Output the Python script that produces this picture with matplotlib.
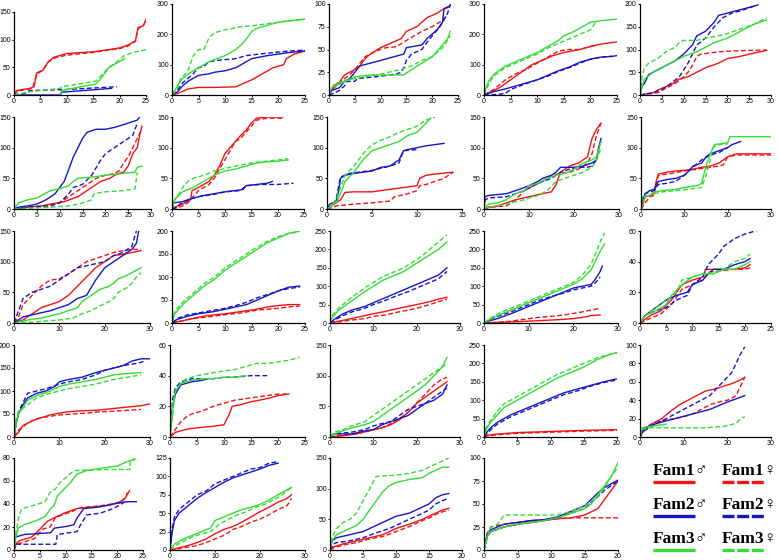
import matplotlib
matplotlib.use("Agg")
import matplotlib.pyplot as plt

W, H = 779, 560

RED = "#f01414"
BLUE = "#1616c8"
GREEN = "#34dc34"

# order in every panel: Fam1 male, Fam1 female, Fam2 male, Fam2 female, Fam3 male, Fam3 female
series_colors = [RED, RED, BLUE, BLUE, GREEN, GREEN]
series_dashed = [False, True, False, True, False, True]
legend_labels = ["Fam1♂", "Fam1♀", "Fam2♂", "Fam2♀", "Fam3♂", "Fam3♀"]

# axis ranges per panel (row by row)
x_max = [25, 25, 25, 25, 30, 30, 25, 15, 30, 30, 30, 25, 30, 30, 25, 30, 25, 30, 20, 30, 25, 30, 20, 20]
x_step = [5, 5, 5, 5, 5, 5, 5, 5, 10, 10, 10, 5, 10, 10, 5, 10, 5, 10, 5, 10, 5, 10, 5, 5]
y_max = [150, 300, 100, 300, 200, 150, 150, 150, 150, 150, 150, 200, 250, 250, 60,
         200, 60, 150, 250, 100, 80, 125, 150, 100]
y_step = [50, 100, 25, 100, 50, 50, 50, 50, 50, 50, 50, 50, 50, 50, 20,
          50, 20, 50, 50, 20, 20, 25, 50, 25]

p01 = [
    [(0,0),(0.5,8),(3,12),(3.8,15),(4.3,40),(5.5,45),(6.5,60),(7.5,68),(10,75),(15,78),(20,85),(21.5,90),(23,98),(23.5,122),(24.5,125),(25,137)],
    [(0,0),(0.7,7),(3.5,12),(4.3,38),(5.5,45),(6.5,60),(8,68),(10,72),(15,77),(20,84),(21.5,88),(23,97),(23.5,120),(24.5,126),(25,135)],
    [(0,0),(8.8,0),(9,5),(18.5,12)],
    [(0,0),(2,3),(3,8),(10,10),(19.5,15)],
    [(8.8,0),(9,8),(15.5,20),(16.5,30),(18,50),(19.5,58),(21,66)],
    [(0,0),(3,6),(8.8,12),(9,15),(15.5,25),(16,30),(18,50),(19.5,60),(21,72),(23,78),(25,82)],
]
p02 = [
    [(0,0),(1,5),(2,12),(3,20),(5,25),(8,25),(12,27),(13,35),(15,50),(17,70),(19,90),(21,100),(21.5,120),(23,135),(25,145)],
    None,
    [(0,0),(1,10),(2,30),(3,45),(4,55),(5,65),(7,70),(8,75),(10,80),(12,90),(14,110),(15,120),(18,130),(22,140),(25,145)],
    [(0,0),(1,15),(2,40),(3,55),(4,70),(4.5,80),(5,90),(6,95),(7,110),(9,115),(12,120),(14,130),(18,138),(22,145),(25,148)],
    [(0,0),(1,30),(2,55),(4,80),(5,90),(7,110),(10,130),(12,150),(13,165),(14,185),(15,210),(16,220),(18,230),(20,240),(25,250)],
    [(0,0),(1,20),(1.5,50),(3,80),(4,130),(5,150),(6,150),(7,190),(8,205),(10,215),(13,225),(15,228),(18,235),(20,240),(22,245),(25,250)],
]
p03 = [
    [(0,0),(1,10),(2,14),(3,22),(4,25),(5,28),(6,32),(7,40),(8,45),(10,52),(12,57),(14,62),(15,70),(17,75),(19,85),(21,90),(22,94),(23,96)],
    [(0,0),(1,8),(3,18),(4,22),(5,28),(6,35),(7,42),(9,48),(11,52),(13,53),(15,60),(18,70),(20,75),(22,82),(23,88)],
    [(0,0),(0.5,5),(2,8),(3,15),(4,18),(5,25),(6,32),(10,38),(14.5,45),(15,52),(18,55),(19,62),(21,72),(22,80),(22.3,95),(23.5,98)],
    [(0,0),(1,2),(2,5),(3,10),(3.5,15),(5,15),(5.5,18),(9,20),(13,23),(14,25),(14.5,30),(15,38),(16,45),(18,50),(19,58),(20,65),(21.5,75),(23,90),(23.5,100)],
    [(0,0),(0.5,8),(2,12),(4,17),(5,20),(8,22),(14.5,22),(16,28),(18,35),(20,42),(22,55),(23,62),(23.5,70)],
    [(0,0),(1,12),(3,16),(5,18),(7,20),(10,23),(14,28),(16,32),(18,38),(20,42),(22,52),(23.5,65)],
]
p04 = [
    [(0,0),(1,8),(3,25),(5,50),(7,75),(9,100),(11,115),(13,130),(15,140),(18,150),(20,160),(22,168),(25,175)],
    [(0,0),(2,20),(4,50),(6,70),(8,85),(10,105),(12,125),(14,145),(16,150),(18,150),(20,160),(21,165)],
    [(0,0),(2,12),(4,20),(5,25),(7,35),(9,45),(10,50),(12,65),(14,80),(16,92),(18,108),(20,118),(22,125),(24,127),(25,130)],
    [(0,0),(2,1),(4,5),(5,18),(6,25),(8,38),(10,50),(12,62),(14,78),(16,90),(18,105),(20,118),(22,125),(24,128)],
    [(0,0),(0.5,30),(1,50),(2,70),(4,95),(6,110),(8,125),(10,140),(12,160),(14,180),(15,195),(17,210),(19,230),(20,240),(22,245),(25,250)],
    [(0,0),(1,40),(2,65),(4,90),(6,105),(8,120),(10,135),(12,155),(14,170),(16,185),(18,200),(20,215),(21,240)],
]
p05 = [
    [(0,0),(3,5),(5,15),(7,22),(9,35),(11,40),(13,50),(15,60),(18,70),(20,80),(23,85),(26,92),(29,98)],
    [(0,0),(4,5),(6,15),(8,25),(10,40),(11,50),(12,65),(13,85),(14,90),(18,95),(22,97),(29,99)],
    [(0,0),(0.5,20),(1,25),(2,45),(4,55),(6,65),(8,75),(10,90),(12,110),(13,130),(15,140),(16,150),(17,160),(18,175),(20,180),(22,185),(24,190),(26,195),(27,198)],
    [(0,0),(3,5),(5,12),(7,25),(9,40),(11,70),(12,90),(13,110),(15,125),(17,150),(19,170),(21,180),(23,185),(26,195)],
    [(0,0),(0.5,20),(1,35),(3,50),(5,60),(7,70),(10,85),(13,95),(15,105),(17,115),(20,125),(23,140),(26,155),(29,165)],
    [(0,0),(0.5,40),(1,60),(2,70),(4,80),(6,95),(8,105),(9,115),(10,120),(13,120),(15,125),(18,130),(20,135),(23,145),(26,155),(29,170)],
]
p06 = [
    [(0,0),(3,3),(6,5),(8,8),(11,12),(14,20),(16,30),(18,40),(19,45),(21,50),(22,55),(23,58),(24,60),(25,70),(26,90),(27,100),(27.5,120),(28,135)],
    [(0,0),(3,2),(7,5),(10,10),(12,20),(14,30),(16,40),(18,50),(20,55),(22,58),(23,62),(24,75),(25,85),(26,100),(27,115),(28,130)],
    [(0,0),(1,3),(3,5),(5,8),(7,15),(9,25),(10,35),(11,45),(12,65),(13,85),(14,100),(15,115),(16,125),(18,130),(20,130),(22,133),(25,140),(27,145),(27.5,150)],
    [(0,0),(2,3),(5,4),(8,5),(10,10),(12,25),(13,35),(15,40),(17,55),(19,80),(20,90),(22,100),(24,110),(26,120),(27,140)],
    [(0,0),(1,10),(3,15),(5,18),(6,22),(8,30),(10,33),(12,38),(13,45),(14,50),(17,52),(20,55),(24,58),(26.5,60),(27,68),(28,70)],
    [(0,0),(2,1),(5,2),(8,3),(12,5),(14,8),(16,12),(17,15),(17.5,25),(20,28),(24,30),(26.5,33),(27,60)],
]
p07 = [
    [(0,0),(0.5,3),(2,8),(3.5,15),(3.8,30),(5,35),(6,40),(7,45),(8,55),(9,70),(10,90),(11,100),(12,110),(13,120),(14,128),(15,140),(16,148),(18,150),(21,150)],
    [(0,0),(1,2),(2,5),(3,10),(4,20),(5,30),(7,40),(8,50),(9,65),(10,80),(11,95),(12,110),(13,115),(14,125),(15,135),(16,145),(18,148),(21,148)],
    [(0,0),(0.3,10),(2,12),(4,18),(6,22),(8,25),(10,28),(12,30),(13.5,32),(14,38),(16,40),(18,42),(19,45)],
    [(0,0),(1,3),(1.5,8),(3,15),(5,20),(8,24),(10,28),(13,30),(14,38),(17,40),(20,40),(23,42)],
    [(0,0),(0.5,15),(1,20),(2,28),(4,35),(6,45),(8,55),(10,62),(12,65),(14,70),(16,75),(18,77),(20,78),(22,80)],
    [(0,0),(0.5,15),(1,20),(2,35),(3,45),(4,50),(6,55),(8,62),(10,66),(12,70),(15,75),(18,78),(20,80),(22,82)],
]
p08 = [
    [(0,0),(0.5,5),(1,10),(1.5,15),(2,27),(3,28),(5,28),(7,32),(9,36),(10,38),(10.3,50),(11,55),(12,57),(14,60)],
    [(0,0),(0.5,2),(1,5),(3,8),(5,10),(7,13),(7.5,20),(9,25),(10,30),(10.3,38),(11,40),(12,45),(13,50),(14,60)],
    [(0,0),(0.3,8),(1,12),(1.3,30),(1.5,50),(2,55),(3,58),(5,62),(6,68),(7,70),(8,80),(8.5,95),(9,97),(10,100),(11,103),(12,105),(13,107)],
    [(0,0),(0.5,5),(1,15),(1.5,52),(2.5,58),(5,63),(7,70),(8,75),(8.5,95),(10,97)],
    [(0,0),(0.5,5),(1,10),(1.5,25),(2,45),(3,60),(4,80),(5,95),(6,100),(7,105),(8,110),(9,120),(10,125),(11,140),(11.5,148)],
    [(0,0),(0.5,5),(1,15),(1.5,35),(2,55),(3,70),(4,90),(5,105),(6,112),(7,118),(8,125),(9,130),(10,135),(11,145),(12,150)],
]
p09 = [
    [(0,0),(1,3),(3,5),(5,10),(7,15),(10,20),(13,25),(15,28),(16,40),(17,60),(19,70),(21,75),(22,80),(23,85),(23.5,100),(24,115),(25,130),(26,140)],
    [(0,0),(1,2),(3,4),(5,5),(7,15),(9,30),(11,38),(13,45),(15,55),(17,58),(19,60),(21,65),(23,75),(24,90),(25,120),(26,140)],
    [(0,0),(0.2,20),(1,22),(5,25),(7,30),(9,35),(10,38),(12,45),(13,50),(15,55),(16,60),(17,68),(20,68),(22,70),(24,75),(25,80),(25.5,100),(26,115)],
    [(0,0),(0.3,15),(1,18),(5,20),(7,25),(9,30),(11,38),(13,45),(15,50),(17,60),(19,65),(21,68),(23,68),(24,70),(25,80),(25.5,100),(26,110)],
    [(0,0),(1,8),(3,10),(5,15),(7,25),(9,30),(10,38),(12,42),(14,50),(16,55),(18,58),(20,65),(22,75),(24,80),(25,85),(26,110)],
    [(0,0),(1,3),(3,5),(5,8),(7,12),(9,15),(10,18),(12,22),(14,30),(16,45),(18,50),(20,55),(22,60),(24,68),(25,80),(26,100)],
]
p10 = [
    [(0,0),(1,20),(2,22),(3,25),(3.5,45),(4,57),(6,60),(8,62),(10,63),(12,65),(14,68),(16,70),(18,75),(19,80),(20,85),(22,90),(30,90)],
    [(0,0),(2,20),(3,22),(3.5,40),(4,55),(7,58),(10,62),(13,65),(16,68),(18,70),(19,72),(20,85),(22,88),(30,88)],
    [(0,0),(0.3,15),(1,25),(2,30),(3,32),(4,45),(6,48),(8,50),(10,55),(11,62),(12,70),(14,75),(15,85),(16,90),(18,95),(20,100),(21,105),(23,110)],
    [(0,0),(0.5,20),(1,25),(3,30),(4,40),(6,42),(8,45),(10,55),(12,68),(14,80),(16,88),(18,92),(20,100)],
    [(0,0),(0.3,20),(2,22),(3,28),(5,30),(8,32),(10,35),(13,38),(14,42),(15,70),(16,90),(17,105),(20,108),(20.5,118),(22,118),(30,118)],
    [(0,0),(1,20),(3,25),(5,28),(8,30),(11,32),(14,35),(15,55),(16,80),(16.5,100),(18,105),(20,106)],
]
p11 = [
    [(0,0),(2,5),(4,15),(6,25),(8,30),(10,35),(12,45),(14,60),(16,75),(18,90),(20,100),(22,110),(24,112),(26,115),(28,118)],
    [(0,0),(1,10),(2,30),(4,45),(6,60),(8,70),(10,72),(12,80),(14,90),(16,100),(18,105),(20,110),(22,115),(24,118),(26,120),(28,120)],
    [(0,0),(2,10),(5,15),(8,20),(12,30),(14,40),(16,45),(18,70),(20,90),(22,100),(24,110),(26,120),(27,130),(27.5,150)],
    [(0,0),(1,20),(2,40),(4,50),(6,55),(8,60),(9,65),(10,70),(12,80),(14,90),(17,95),(20,100),(22,110),(24,115),(26,125),(27,150)],
    [(0,0),(3,5),(6,8),(10,15),(14,25),(15,35),(17,45),(19,55),(21,60),(22,65),(23,72),(25,78),(26,82),(28,90)],
    [(0,0),(5,2),(10,5),(13,8),(15,15),(17,20),(19,28),(21,35),(22,40),(23,50),(25,58),(26,65),(27,75),(28,82)],
]
p12 = [
    [(0,0),(2,5),(4,10),(6,15),(8,18),(10,20),(13,25),(16,30),(18,35),(20,38),(22,40),(24,40)],
    [(0,0),(2,5),(4,10),(6,12),(8,15),(10,18),(13,22),(16,28),(18,30),(20,32),(22,35),(24,37)],
    [(0,0),(1,8),(3,15),(5,20),(8,25),(10,30),(12,35),(14,40),(16,50),(18,60),(20,70),(22,78),(24,80)],
    [(0,0),(1,10),(3,18),(5,22),(8,28),(10,32),(12,38),(14,45),(16,55),(18,62),(20,70),(22,75),(24,78)],
    [(0,0),(0.5,20),(2,40),(4,60),(6,80),(8,95),(10,115),(12,130),(14,145),(16,160),(18,175),(20,185),(22,195),(24,200)],
    [(0,0),(0.5,25),(2,45),(4,65),(6,85),(8,100),(10,120),(12,135),(14,150),(16,165),(18,178),(20,188),(22,195),(24,198)],
]
p13 = [
    [(0,0),(2,5),(5,12),(8,20),(10,25),(13,32),(15,38),(18,45),(20,50),(23,58),(25,65),(27,70)],
    [(0,0),(2,3),(5,8),(8,12),(10,18),(13,22),(15,28),(18,35),(20,40),(23,50),(25,58),(27,65)],
    [(0,0),(1,10),(3,25),(5,35),(8,45),(10,55),(12,65),(15,80),(18,95),(20,105),(23,120),(25,130),(27,150)],
    [(0,0),(1,8),(3,20),(5,30),(8,40),(10,50),(12,58),(15,72),(18,85),(20,95),(23,110),(25,120),(27,140)],
    [(0,0),(0.5,15),(2,35),(5,60),(8,85),(10,100),(12,115),(15,130),(17,140),(19,155),(21,170),(23,185),(25,200),(27,220)],
    [(0,0),(0.5,20),(2,40),(5,70),(8,95),(10,110),(12,125),(15,140),(17,150),(19,165),(21,180),(23,200),(25,220),(27,240)],
]
p14 = [
    [(0,0),(5,2),(10,5),(15,8),(18,10),(20,12),(22,15),(24,20),(26,22)],
    [(0,0),(3,2),(6,5),(9,10),(12,15),(15,18),(18,22),(21,28),(24,35),(26,40)],
    [(0,0),(1,5),(3,12),(6,25),(9,40),(12,55),(15,70),(18,85),(20,95),(22,100),(24,105),(25,120),(26,140),(26.5,155)],
    [(0,0),(1,8),(3,18),(6,30),(9,45),(12,60),(15,72),(18,82),(20,90),(22,95),(24,100),(25,110),(26,125)],
    [(0,0),(1,8),(3,20),(6,35),(9,50),(12,65),(15,80),(18,95),(20,105),(22,120),(24,145),(25,170),(26,195),(27,215)],
    [(0,0),(1,10),(3,25),(6,40),(9,55),(12,70),(15,85),(18,100),(20,110),(22,130),(24,160),(25,190),(26,220),(27,245)],
]
p15 = [
    [(0,0),(2,5),(4,8),(6,15),(8,25),(10,28),(12,30),(12.5,35),(15,35),(18,35),(20,36),(21,38)],
    [(0,0),(2,3),(4,6),(6,12),(8,22),(10,25),(12,28),(13,33),(15,34),(18,35),(20,35),(21,36)],
    [(0,0),(1,5),(3,10),(5,15),(7,18),(9,20),(10,25),(12,28),(13,32),(14,35),(16,35),(18,38),(20,40),(21,42)],
    [(0,0),(1,5),(3,8),(5,10),(7,15),(9,18),(10,25),(12,30),(13,38),(15,45),(16,50),(18,55),(20,58),(22,60),(24,62),(25,64)],
    [(0,0),(1,5),(3,8),(5,12),(6,18),(8,25),(10,30),(12,32),(14,32),(16,35),(18,35),(20,38),(21,40)],
    [(0,0),(1,5),(3,10),(5,15),(7,20),(8,28),(10,30),(12,32),(14,33),(16,35),(18,40),(20,42),(21,45)],
]
p16 = [
    [(0,0),(1,10),(2,25),(4,35),(6,42),(8,48),(10,52),(12,55),(15,57),(18,58),(20,60),(22,62),(25,65),(28,68),(30,72)],
    [(0,0),(1,15),(3,30),(5,40),(8,45),(10,48),(13,50),(16,52),(19,55),(22,56),(25,58),(28,60)],
    [(0,0),(0.5,30),(1,50),(2,70),(3,85),(5,95),(7,100),(9,110),(10,120),(12,125),(15,130),(18,140),(20,145),(22,150),(24,155),(26,165),(28,170),(30,170)],
    [(0,0),(0.5,35),(1,55),(2,75),(3,95),(5,100),(7,105),(10,115),(12,120),(15,125),(18,135),(20,145),(22,150),(24,155),(27,160),(29,165)],
    [(0,0),(0.5,30),(1,50),(3,80),(5,90),(8,100),(10,110),(12,115),(15,120),(18,125),(20,130),(22,135),(25,138),(28,140)],
    [(0,0),(0.5,40),(1,55),(3,70),(5,85),(8,95),(10,100),(12,105),(15,110),(18,115),(20,120),(22,125),(25,130),(28,135)],
]
p17 = [
    [(0,0),(1,3),(3,5),(5,6),(8,7),(10,8),(11,15),(11.5,20),(13,21),(15,23),(18,25),(20,27),(22,28)],
    [(0,0),(1,5),(2,10),(3,13),(4,15),(6,17),(8,20),(10,22),(12,24),(14,25),(16,26),(18,27),(20,28),(22,28)],
    [(0,0),(0.5,20),(1,28),(2,34),(4,36),(6,37),(7,38)],
    [(0,0),(0.5,25),(1,32),(2,36),(4,38),(6,38),(8,38),(10,39),(12,39),(15,40),(18,40)],
    [(0,0),(0.5,20),(1,30),(2,35),(4,37),(6,38),(8,38),(10,39),(12,39),(14,40)],
    [(0,0),(0.5,15),(1,30),(2,35),(3,38),(5,40),(8,42),(10,43),(12,44),(14,46),(16,48),(18,48),(20,49),(22,50),(24,52)],
]
p18 = [
    [(0,0),(3,2),(6,5),(9,10),(12,15),(14,20),(16,28),(18,40),(20,55),(22,65),(24,75),(26,85),(27,90)],
    [(0,0),(3,3),(6,5),(9,10),(12,15),(15,25),(18,40),(20,55),(22,70),(24,85),(26,95),(27,97)],
    [(0,0),(1,5),(5,5),(8,10),(10,12),(12,20),(14,25),(16,30),(18,35),(20,45),(22,55),(24,60),(26,70),(27,85)],
    [(0,0),(1,5),(5,8),(8,12),(10,18),(12,22),(14,25),(16,35),(18,45),(20,50),(22,55),(24,65),(26,75),(27,80)],
    [(0,0),(1,5),(3,10),(5,15),(8,20),(10,25),(12,35),(14,45),(16,55),(18,65),(20,75),(22,85),(24,100),(26,115),(27,130)],
    [(0,0),(1,8),(3,12),(5,18),(8,25),(10,35),(12,45),(14,55),(16,65),(18,75),(20,85),(22,95),(24,105),(26,115),(27,120)],
]
p19 = [
    [(0,0),(0.5,5),(2,8),(5,12),(10,15),(15,18),(20,20)],
    [(0,0),(0.5,3),(2,6),(5,10),(10,13),(15,16),(20,18)],
    [(0,0),(0.5,15),(1,25),(2,40),(4,60),(6,75),(8,90),(10,105),(12,120),(14,130),(16,140),(18,150),(20,158)],
    [(0,0),(0.5,10),(1,20),(2,35),(4,55),(6,70),(8,85),(10,100),(12,115),(14,125),(16,138),(18,148),(20,155)],
    [(0,0),(0.3,20),(1,40),(2,60),(3,80),(5,100),(7,120),(9,140),(11,160),(13,175),(15,190),(17,210),(19,225),(20,230)],
    [(0,0),(0.3,25),(1,45),(2,70),(3,90),(5,110),(7,130),(9,150),(11,170),(13,185),(15,200),(17,215),(19,225),(20,228)],
]
p20 = [
    [(0,0),(1,8),(3,15),(5,20),(7,28),(9,35),(11,40),(13,45),(15,50),(17,52),(19,55),(21,58),(22,60),(23,62),(24,65)],
    [(0,0),(1,10),(3,15),(5,18),(8,20),(10,22),(12,25),(14,30),(16,35),(18,38),(20,40),(21,42),(22,45),(23,55),(24,65)],
    [(0,0),(1,10),(4,15),(8,20),(12,25),(16,30),(20,38),(24,45)],
    [(0,0),(0.5,5),(2,10),(4,15),(6,20),(8,25),(10,30),(12,35),(14,40),(16,45),(17,50),(18,55),(19,60),(20,65),(21,70),(22,80),(23,90),(24,98)],
    [(0,0),(0.5,10),(3,12),(6,14)],
    [(0,0),(0.5,8),(2,10),(5,10),(10,10),(15,10),(20,12),(22,15),(23,20),(24,22)],
]
p21 = [
    [(0,0),(0.3,5),(1,8),(3.3,11),(4,13.5),(5.2,19),(6.5,25),(7.8,28),(9.7,32),(12.2,36),(15.4,37.5),(18.6,39),(20.5,42),(21.5,44.6),(22.4,51.7)],
    [(0,0),(0.5,5),(2,7),(4,10),(5.5,18),(7,20),(8,28),(9,30),(11,33),(13,37),(16,38),(19,40),(20.5,41),(21.5,45),(22,50)],
    [(0,0),(0.1,11),(2,13.5),(7.1,15),(7.8,19),(10.3,20.6),(11.6,22),(12.2,27.7),(13.5,36),(16.7,37.5),(19.2,40),(21.8,42),(23.7,42)],
    [(0,0),(0.1,5),(8.1,5),(8.4,13.5),(12.2,16),(12.9,22),(14.1,30.5),(16.7,32),(19.2,36),(20.5,39),(21.5,42)],
    [(0,0),(0.3,10),(0.8,19),(2,22),(4.6,26),(6,29),(7.1,36),(7.8,39),(8.4,47),(9.7,53),(11,59),(12.2,66),(14,69),(16.7,71),(20,73),(22,77),(23.4,78.5)],
    [(0,0),(0.2,10),(0.5,18),(1,30),(1.5,36),(4,39),(6,42),(7,50),(8,53),(9,59),(10.3,64),(11.6,69),(14,69.5),(18.6,70),(22.5,70),(22.5,77),(23.5,80)],
]
p22 = [
    [(0,0),(2,3),(4,6),(6,10),(8,15),(10,22),(12,28),(14,32),(16,38),(18,45),(20,52),(22,58),(24,65),(26,70),(27,75)],
    [(0,0),(2,2),(4,4),(6,6),(8,10),(10,15),(12,20),(14,28),(16,32),(18,38),(20,42),(22,48),(24,55),(26,60),(27,70)],
    [(0,0),(0.5,25),(1,40),(2,50),(4,60),(6,70),(8,78),(10,85),(12,92),(14,98),(16,102),(18,106),(20,110),(22,115),(24,118)],
    [(0,0),(0.5,30),(1,45),(2,55),(4,65),(6,75),(8,80),(10,90),(12,95),(14,100),(16,105),(18,110),(20,112),(22,118),(24,120)],
    [(0,0),(1,8),(3,15),(5,20),(7,25),(9,30),(10,40),(12,45),(14,50),(16,55),(18,58),(20,62),(22,68),(24,75),(26,82),(27,85)],
    [(0,0),(1,5),(3,12),(5,18),(7,22),(9,25),(11,35),(13,42),(15,48),(17,52),(19,58),(21,62),(23,68),(25,75),(27,85)],
]
p23 = [
    [(0,0),(0.5,5),(2,10),(4,15),(6,20),(8,25),(10,35),(12,42),(14,50),(15,55),(16,60),(17,65),(18,68)],
    [(0,0),(0.5,3),(2,8),(4,12),(6,18),(8,22),(10,30),(12,38),(14,48),(15,52),(16,58),(17,62),(18,65)],
    [(0,0),(0.3,15),(1,20),(3,25),(5,30),(7,40),(8,45),(10,55),(12,60),(14,70),(15,75),(16,85),(17,90),(18,92)],
    [(0,0),(0.5,10),(1,12),(3,15),(5,20),(7,28),(9,35),(11,45),(13,55),(14,60),(15,65),(16,75),(17,80),(18,85)],
    [(0,0),(0.3,15),(1,25),(2,30),(3,35),(4,40),(5,50),(6,65),(7,80),(8,95),(9,105),(10,110),(12,115),(14,118),(15,125),(16,130),(17,135),(18,135)],
    [(0,0),(0.3,20),(1,35),(2,45),(3,50),(4,60),(5,80),(6,100),(7,120),(10,122),(12,125),(14,130),(15,135),(16,140),(17,145),(18,150)],
]
p24 = [
    [(0,0),(0.5,15),(1,20),(3,25),(5,28),(7,30),(9,32),(11,34),(13,35),(15,38),(17,45),(18,55),(19,65),(20,75)],
    [(0,0),(0.5,18),(1,25),(3,28),(5,30),(7,32),(9,33),(11,34),(13,35),(15,35),(17,35),(19,35),(20,35)],
    [(0,0),(0.5,18),(1,22),(3,28),(5,30),(7,32),(9,33),(11,36),(13,42),(15,48),(16,55),(17,62),(18,68),(19,72),(20,76)],
    [(0,0),(0.5,15),(1,20),(3,25),(5,28),(7,30),(9,32),(11,35),(13,40),(15,45),(16,52),(17,58),(18,65),(19,70),(20,75)],
    [(0,0),(0.5,15),(1,20),(3,25),(5,28),(7,30),(9,32),(11,35),(13,40),(15,45),(16,50),(17,60),(18,70),(19,80),(20,95)],
    [(0,0),(0.5,15),(1,25),(2,28),(3,38),(5,38),(7,38),(9,38),(11,38),(13,42),(15,48),(17,58),(18,68),(19,80),(20,90)],
]

panels = [p01, p02, p03, p04, p05, p06, p07, p08, p09, p10, p11, p12,
          p13, p14, p15, p16, p17, p18, p19, p20, p21, p22, p23, p24]

# layout in pixels (left, right of the plotting area; top/bottom per row)
lefts = [14, 172, 329, 484, 640, 14, 172, 327, 484, 641, 14, 172, 330, 484, 640,
         14, 170, 330, 484, 640, 14, 170, 330, 484]
rights = [146, 305, 458, 617, 771, 151, 304, 462, 619, 771, 150, 305, 460, 618, 771,
          150, 305, 460, 617, 771, 143, 305, 462, 618]
row_top = [4, 117, 231, 345, 458]
row_bot = [95, 209, 323, 437, 550]

plt.rcParams['font.family'] = ['Liberation Sans', 'DejaVu Sans']
fig = plt.figure(figsize=(W / 100, H / 100), dpi=100)

for i, curves in enumerate(panels):
    r = i // 5
    top = 12 if i == 0 else row_top[r]
    bot = row_bot[r]
    l, rr = lefts[i], rights[i]
    ax = fig.add_axes([l / W, 1 - bot / H, (rr - l) / W, (bot - top) / H])
    for k, pts in enumerate(curves):
        if pts is None:
            continue
        xs = [p[0] for p in pts]
        ys = [p[1] for p in pts]
        ls = (0, (3.5, 1.8)) if series_dashed[k] else '-'
        ax.plot(xs, ys, color=series_colors[k], lw=1.0, ls=ls)
    ax.set_xlim(0, x_max[i])
    ax.set_ylim(0, y_max[i])
    ax.set_xticks(range(0, x_max[i] + 1, x_step[i]))
    ax.set_yticks(range(0, y_max[i] + 1, y_step[i]))
    for s in ['top', 'right']:
        ax.spines[s].set_visible(False)
    for s in ['left', 'bottom']:
        ax.spines[s].set_linewidth(0.9)
    ax.tick_params(direction='out', length=1.5, width=0.7, labelsize=5, pad=0.8)
    ax.patch.set_visible(False)

# legend panel in pixel coordinates
lg = fig.add_axes([0, 0, 1, 1])
lg.set_xlim(0, W)
lg.set_ylim(H, 0)
lg.axis('off')
col_x = [653, 722]
text_y = [475, 509, 543]
line_y = [482, 516, 550]
for k, lab in enumerate(legend_labels):
    r = k // 2
    c = k % 2
    x0 = col_x[c]
    lg.text(x0, text_y[r], lab, fontsize=12.5, fontweight='bold',
            family=['Liberation Serif', 'DejaVu Sans'], va='baseline', ha='left')
    ls = (0, (3.6, 0.8)) if series_dashed[k] else '-'
    lg.plot([x0, x0 + 42], [line_y[r], line_y[r]], color=series_colors[k],
            lw=2.4, ls=ls, solid_capstyle='butt', dash_capstyle='butt')

fig.savefig("out.png", dpi=100)
